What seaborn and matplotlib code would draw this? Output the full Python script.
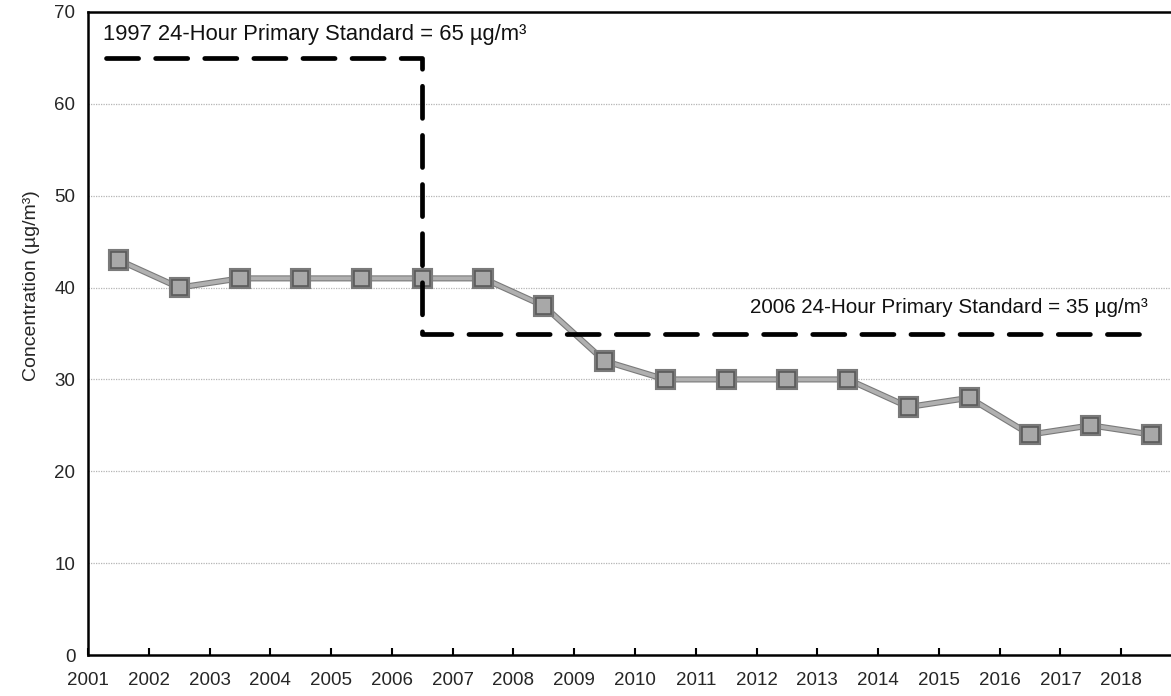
import numpy as np
import pandas as pd
import seaborn as sns
import matplotlib.pyplot as plt
import matplotlib.patheffects as pe

sns.set_theme(style="white")
plt.rcParams['font.family'] = ['Liberation Sans', 'DejaVu Sans']

years = [str(y) for y in range(2001, 2019)]
concentration = [43, 40, 41, 41, 41, 41, 41, 38, 32, 30, 30, 30, 30, 27, 28, 24, 25, 24]
# standard step line (x in category index units)
std_x = [-0.21, 5, 5, 17.0]
std_y = [65, 65, 35, 35]
std_1997_label = '1997 24-Hour Primary Standard = 65 µg/m³'
std_2006_label = '2006 24-Hour Primary Standard = 35 µg/m³'

df = pd.DataFrame({'idx': np.arange(len(years)), 'conc': concentration})

fig = plt.figure(figsize=(11.71, 6.96), dpi=100)
ax = fig.add_axes([88/1171, 41/696, 1094/1171, (655-12)/696])

sns.lineplot(data=df, x='idx', y='conc', ax=ax, color='#b0b0b0', lw=2.8,
             marker='s', markersize=11, markerfacecolor='#a8a8a8',
             markeredgecolor='#5a5a5a', markeredgewidth=1.2,
             path_effects=[pe.Stroke(linewidth=4.4, foreground='#7a7a7a'), pe.Normal()],
             zorder=3)

ax.plot(std_x, std_y, color='black', lw=3.4, dashes=(6.8, 3.6), zorder=4,
        solid_capstyle='round', dash_capstyle='round')

ax.text(-0.25, 67.5, std_1997_label, fontsize=15.8, ha='left', va='center', color='#111111')
ax.text(16.94, 37.8, std_2006_label, fontsize=14.9, ha='right', va='center', color='#111111')

ax.set_xlim(-0.5, 17.5)
ax.set_ylim(0, 70)
ax.set_yticks(range(0, 71, 10))
ax.set_xticks(np.arange(len(years)) - 0.5)
ax.set_xticklabels(years)
ax.tick_params(axis='x', direction='in', length=5, width=1.5, color='black',
               labelsize=13.5, pad=12, bottom=True)
ax.tick_params(axis='y', length=0, labelsize=13.5, pad=9)
ax.set_xlabel('')
ax.set_ylabel('Concentration (µg/m³)', fontsize=14)
ax.yaxis.set_label_coords(-0.044, 0.575)

for y in range(10, 70, 10):
    ax.axhline(y, color='#b5b5b5', lw=0.9, ls=(0, (1, 1)), zorder=1)

for s in ['left', 'bottom', 'top']:
    ax.spines[s].set_color('black')
    ax.spines[s].set_linewidth(1.8)
ax.spines['right'].set_visible(False)

plt.savefig('out.png', dpi=100)
